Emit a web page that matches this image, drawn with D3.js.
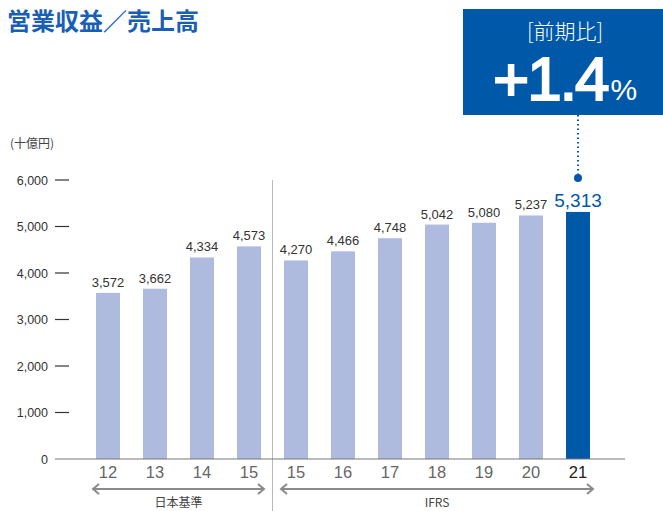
<!DOCTYPE html>
<html>
<head>
<meta charset="utf-8">
<script src="https://cdn.jsdelivr.net/npm/d3@7/dist/d3.min.js"></script>
<style>
    body { margin: 0; background: #fff; }
    svg { font-family: "Helvetica Neue", Arial, "Liberation Sans", "Noto Sans CJK JP", sans-serif; }
</style>
</head>
<body>
<div id="viz"></div>
<script>
"use strict";
// data
const years = ["12", "13", "14", "15a", "15b", "16", "17", "18", "19", "20", "21"]
const yearLabels = ["12", "13", "14", "15", "15", "16", "17", "18", "19", "20", "21"]
const revenue = [3572, 3662, 4334, 4573, 4270, 4466, 4748, 5042, 5080, 5237, 5313]
const yTicks = [0, 1000, 2000, 3000, 4000, 5000, 6000]
const groups = [
    { name: "日本基準", from: "12", to: "15a" },
    { name: "IFRS", from: "15b", to: "21" }
]

const measurements = { width: 663, height: 511 }
const colors = { bar: "#aebbdf", last: "#0058a9", title: "#1a5fb4", text: "#333", axis: "#777" }

const svg = d3.select("#viz").append("svg")
    .attr("width", measurements.width)
    .attr("height", measurements.height)

const scaleX = d3.scaleBand()
    .domain(years)
    .range([84.5, 601.5])
    .paddingInner(0.49)
    .paddingOuter(0.245)

const scaleY = d3.scaleLinear()
    .domain([0, 6000])
    .range([459, 180])

// title
svg.append("text")
    .attr("x", 7).attr("y", 30)
    .attr("fill", colors.title)
    .attr("font-size", 24).attr("font-weight", "bold")
    .attr("font-family", "'Noto Sans CJK JP', sans-serif")
    .text("営業収益／売上高")

// unit
svg.append("text")
    .attr("x", 10).attr("y", 148)
    .attr("fill", "#444").attr("font-size", 12)
    .attr("font-family", "'Noto Sans CJK JP', sans-serif")
    .text("(十億円)")

// y axis labels and ticks
const yAxis = svg.append("g")
yAxis.selectAll("text").data(yTicks).enter().append("text")
    .attr("x", 48).attr("y", d => scaleY(d) + 4.5)
    .attr("text-anchor", "end")
    .attr("fill", "#333").attr("font-size", 12.5)
    .text(d => d3.format(",")(d))
yAxis.selectAll("line").data(yTicks.filter(d => d > 0)).enter().append("line")
    .attr("x1", 55).attr("x2", 69)
    .attr("y1", d => scaleY(d)).attr("y2", d => scaleY(d))
    .attr("stroke", "#333").attr("stroke-width", 1.2)

// separator between standards
const sepX = (scaleX("15a") + scaleX.bandwidth() + scaleX("15b")) / 2
svg.append("line")
    .attr("x1", sepX).attr("x2", sepX)
    .attr("y1", 180).attr("y2", 511)
    .attr("stroke", "#bbb").attr("stroke-width", 1)

// bars
svg.selectAll(".bar").data(revenue).enter().append("rect")
    .attr("class", "bar")
    .attr("x", (d, i) => scaleX(years[i]))
    .attr("y", d => scaleY(d))
    .attr("width", scaleX.bandwidth())
    .attr("height", d => scaleY(0) - scaleY(d))
    .attr("fill", (d, i) => i === revenue.length - 1 ? colors.last : colors.bar)

// baseline
svg.append("line")
    .attr("x1", 55).attr("x2", 625)
    .attr("y1", scaleY(0)).attr("y2", scaleY(0))
    .attr("stroke", "#777").attr("stroke-width", 1.2)

// value labels
svg.selectAll(".val").data(revenue).enter().append("text")
    .attr("class", "val")
    .attr("x", (d, i) => scaleX(years[i]) + scaleX.bandwidth() / 2)
    .attr("y", (d, i) => scaleY(d) - (i === revenue.length - 1 ? 5 : 6))
    .attr("text-anchor", "middle")
    .attr("fill", (d, i) => i === revenue.length - 1 ? colors.last : colors.text)
    .attr("font-size", (d, i) => i === revenue.length - 1 ? 19 : 13)
    .text(d => d3.format(",")(d))

// x labels
svg.selectAll(".xl").data(years).enter().append("text")
    .attr("class", "xl")
    .attr("x", d => scaleX(d) + scaleX.bandwidth() / 2)
    .attr("y", 478)
    .attr("text-anchor", "middle")
    .attr("fill", (d, i) => i === years.length - 1 ? "#222" : "#666")
    .attr("font-size", 16.5)
    .text((d, i) => yearLabels[i])

// group arrows
groups.forEach(function(g) {
    const x1 = scaleX(g.from) - 3
    const x2 = scaleX(g.to) + scaleX.bandwidth() + 3
    const y = 489
    const a = svg.append("g").attr("stroke", "#8a8a8a").attr("stroke-width", 2).attr("fill", "none")
    a.append("line").attr("x1", x1).attr("x2", x2).attr("y1", y).attr("y2", y)
    a.append("path").attr("d", `M${x1 + 6},${y - 5}L${x1},${y}L${x1 + 6},${y + 5}`)
    a.append("path").attr("d", `M${x2 - 6},${y - 5}L${x2},${y}L${x2 - 6},${y + 5}`)
    svg.append("text")
        .attr("x", (x1 + x2) / 2).attr("y", 507)
        .attr("text-anchor", "middle")
        .attr("fill", "#444").attr("font-size", 12)
        .attr("font-family", "'Noto Sans CJK JP', sans-serif")
        .text(g.name)
})

// callout box
const lastX = scaleX("21") + scaleX.bandwidth() / 2
svg.append("rect")
    .attr("x", 463).attr("y", 9)
    .attr("width", 200).attr("height", 106)
    .attr("fill", colors.last)
svg.append("text")
    .attr("x", 565).attr("y", 39)
    .attr("text-anchor", "middle")
    .attr("fill", "#fff").attr("font-size", 21).attr("font-weight", 300)
    .attr("font-family", "'Noto Sans CJK JP', sans-serif")
    .text("[前期比]")
const pct = svg.append("text")
    .attr("x", 493).attr("y", 100)
    .attr("fill", "#fff")
pct.append("tspan").attr("font-size", 62)
    .attr("stroke", "#fff").attr("stroke-width", 2)
    .attr("letter-spacing", -2).text("+1.4")
pct.append("tspan").attr("font-size", 30).attr("dx", 3).text("%")

// dotted leader and dot
svg.append("line")
    .attr("x1", lastX).attr("x2", lastX)
    .attr("y1", 115).attr("y2", 176)
    .attr("stroke", colors.last).attr("stroke-width", 2)
    .attr("stroke-dasharray", "1.5,3")
svg.append("circle")
    .attr("cx", lastX).attr("cy", 178).attr("r", 4)
    .attr("fill", colors.last)
</script>
</body>
</html>
